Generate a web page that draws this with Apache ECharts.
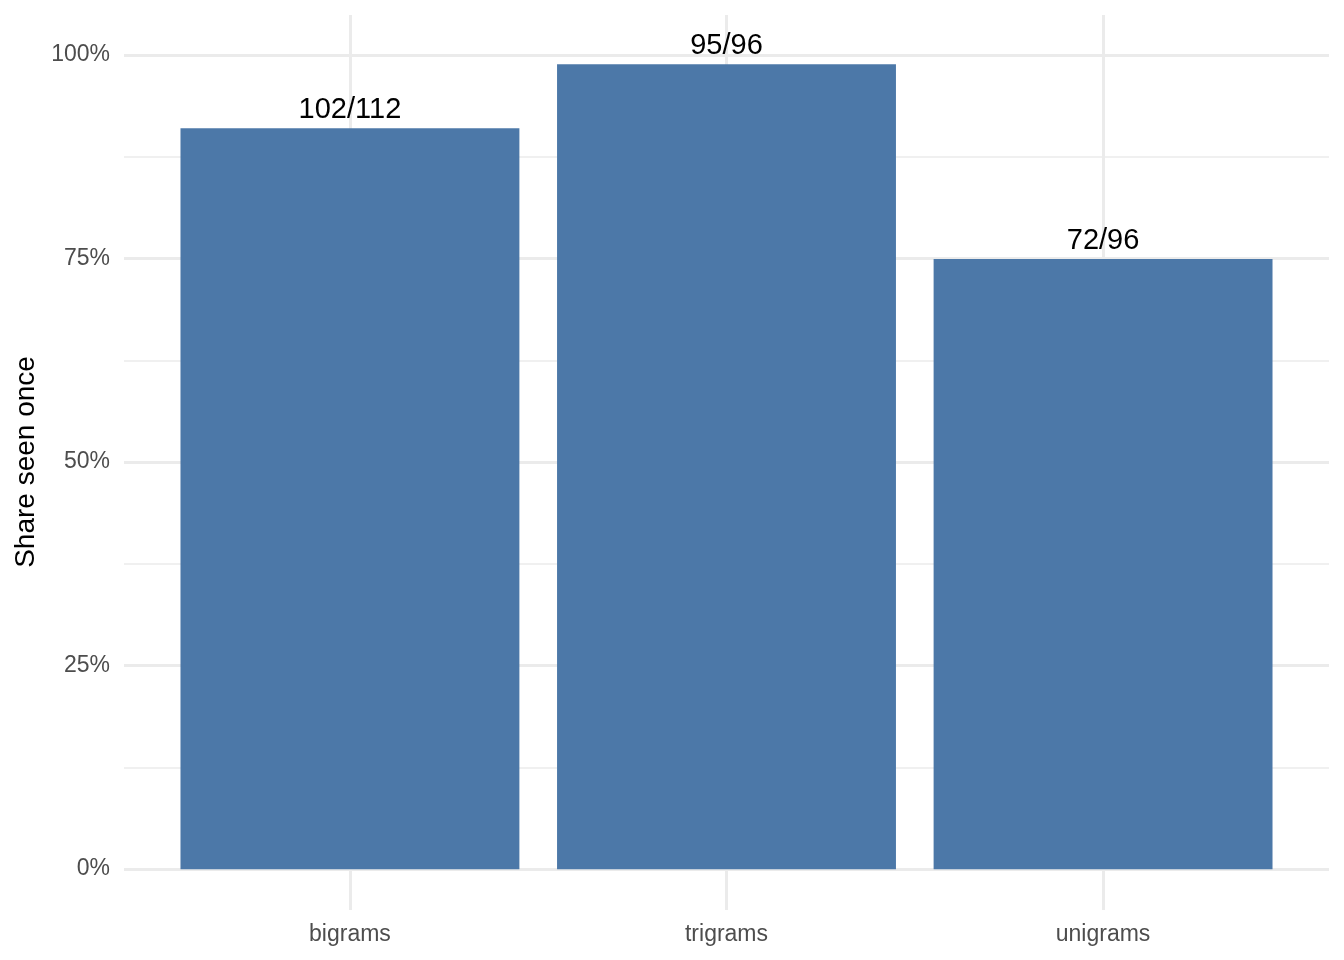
<!DOCTYPE html>
<html>
<head>
<meta charset="utf-8">
<title>Share seen once</title>
<script src="https://cdn.jsdelivr.net/npm/echarts@6/dist/echarts.min.js"></script>
<style>
  html, body { margin: 0; padding: 0; background: #fff; }
  #chart { width: 1344px; height: 960px; }
</style>
</head>
<body>
<div id="chart"></div>
<script>
// data
const categories = ['bigrams', 'trigrams', 'unigrams'];
const seenOnce = [102, 95, 72];
const totals = [112, 96, 96];

const shares = seenOnce.map((v, i) => v / totals[i]);

const chart = echarts.init(document.getElementById('chart'));
const font = "'Liberation Sans', Arial, sans-serif";
const gridColor = '#ebebeb';

// panel of the plot: x 124..1329, y 15..910 ; 0..100% maps to 869..55
// band of one category = 1205 / 3.2
const band = 1205 / 3.2;

const option = {
  backgroundColor: '#fff',
  textStyle: { fontFamily: font },
  grid: [
    // horizontal grid lines + y labels
    { left: 124, width: 1205, top: 55, height: 814 },
    // bars, categories and vertical grid lines
    { left: 124 + 0.1 * band, width: 3 * band, top: 15, height: 895 }
  ],
  xAxis: [
    { gridIndex: 0, type: 'value', min: 0, max: 1, show: false },
    {
      gridIndex: 1,
      type: 'category',
      data: categories,
      axisLine: { show: false, onZero: false },
      axisTick: {
        show: true,
        alignWithLabel: true,
        inside: true,
        length: 895,
        lineStyle: { color: gridColor, width: 3 }
      },
      axisLabel: { fontSize: 23, color: '#4d4d4d', margin: 13, fontFamily: font },
      splitLine: { show: false }
    }
  ],
  yAxis: [
    {
      gridIndex: 0,
      type: 'value',
      min: 0,
      max: 1,
      interval: 0.25,
      name: 'Share seen once',
      nameLocation: 'middle',
      nameGap: 82,
      nameRotate: 90,
      nameTextStyle: { fontSize: 28, color: '#000', fontFamily: font },
      axisLine: { show: false },
      axisTick: { show: false },
      axisLabel: {
        fontSize: 23,
        color: '#4d4d4d',
        margin: 14,
        padding: [4, 0, 0, 0],
        fontFamily: font,
        formatter: v => Math.round(v * 100) + '%'
      },
      splitLine: { lineStyle: { color: gridColor, width: 3 } },
      minorTick: { show: false, splitNumber: 2 },
      minorSplitLine: { show: true, lineStyle: { color: gridColor, width: 1.5 } }
    },
    { gridIndex: 1, type: 'value', min: -0.05, max: 1.05, show: false }
  ],
  series: [
    {
      type: 'bar',
      xAxisIndex: 1,
      yAxisIndex: 1,
      data: shares,
      barWidth: '90%',
      itemStyle: { color: '#4C78A8' },
      label: {
        show: true,
        position: 'top',
        distance: 4,
        fontSize: 29,
        color: '#000',
        fontFamily: font,
        formatter: p => seenOnce[p.dataIndex] + '/' + totals[p.dataIndex]
      },
      silent: true
    }
  ],
  animation: false
};

chart.setOption(option);
</script>
</body>
</html>
